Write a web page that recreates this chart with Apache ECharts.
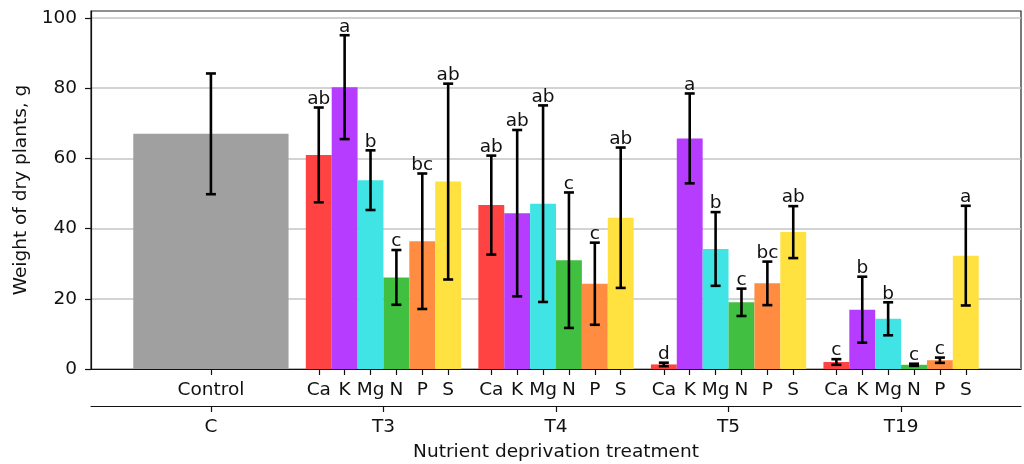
<!DOCTYPE html>
<html>
<head>
<meta charset="utf-8">
<script src="https://cdn.jsdelivr.net/npm/echarts@6/dist/echarts.min.js"></script>
<style>html,body{margin:0;padding:0;background:#fff}#c{width:1024px;height:464px}</style>
</head>
<body>
<div id="c"></div>
<script>
const treatments = ['C', 'T3', 'T4', 'T5', 'T19'];
const nutrients = ['Ca', 'K', 'Mg', 'N', 'P', 'S'];
const controlLabel = 'Control';
const controlMean = 67.0;
const controlErr = 17.2;
const meanT3 = [61.0, 80.3, 53.8, 26.1, 36.4, 53.4];
const errT3  = [13.5, 14.8, 8.5, 7.8, 19.3, 27.9];
const letT3  = ['ab', 'a', 'b', 'c', 'bc', 'ab'];
const meanT4 = [46.7, 44.4, 47.1, 31.0, 24.3, 43.1];
const errT4  = [14.1, 23.7, 28.0, 19.3, 11.7, 20.0];
const letT4  = ['ab', 'ab', 'ab', 'c', 'c', 'ab'];
const meanT5 = [1.3, 65.7, 34.2, 19.0, 24.4, 39.0];
const errT5  = [0.5, 12.8, 10.5, 3.9, 6.2, 7.4];
const letT5  = ['d', 'a', 'b', 'c', 'bc', 'ab'];
const meanT19 = [2.0, 16.9, 14.3, 1.2, 2.5, 32.3];
const errT19  = [0.8, 9.4, 4.7, 0.3, 0.75, 14.2];
const letT19  = ['c', 'b', 'b', 'c', 'c', 'a'];
const yTicks = [0, 20, 40, 60, 80, 100];

const colors = ['#ff4242', '#b63cff', '#40e4e4', '#40bf40', '#ff8c40', '#ffe140'];
const controlColor = '#a0a0a0';
const barW = 0.15;
const FONT = 'DejaVu Sans';
const FS = 18.5;

const groups = [
  [meanT3, errT3, letT3],
  [meanT4, errT4, letT4],
  [meanT5, errT5, letT5],
  [meanT19, errT19, letT19]
];

// rows: [x, mean, err, width, colorIdx(-1 = control), letter]
const rows = [[0, controlMean, controlErr, barW * 6, -1, '']];
const primaryTickVals = [0];
const labelMap = {'0.000': controlLabel};
groups.forEach((g, gi) => {
  nutrients.forEach((n, i) => {
    const x = (gi + 1) + (i - 2.5) * barW;
    rows.push([x, g[0][i], g[1][i], barW, i, g[2][i]]);
    primaryTickVals.push(x);
    labelMap[x.toFixed(3)] = n;
  });
});

const chart = echarts.init(document.getElementById('c'), null, {renderer: 'canvas'});
const textStyleBase = {fontFamily: FONT, fontSize: FS, color: '#111'};

chart.setOption({
  animation: false,
  grid: {left: 91, right: 3, top: 11, bottom: 95, show: true, borderColor: '#222', borderWidth: 1.2,
    backgroundColor: 'transparent', containLabel: false, outerBoundsMode: 'none'},
  xAxis: [
    {
      type: 'value', min: -0.695, max: 4.695, position: 'bottom',
      axisLine: {show: true, onZero: false, lineStyle: {color: '#111', width: 1.2}},
      axisTick: {show: true, customValues: primaryTickVals, length: 6, lineStyle: {color: '#111', width: 1.2}},
      axisLabel: {customValues: primaryTickVals, margin: 12, ...textStyleBase,
        formatter: v => labelMap[Number(v).toFixed(3)] || ''},
      splitLine: {show: false}
    },
    {
      type: 'value', min: -0.695, max: 4.695, position: 'bottom', offset: 37,
      axisLine: {show: true, onZero: false, lineStyle: {color: '#111', width: 1.2}},
      axisTick: {show: true, customValues: [0, 1, 2, 3, 4], length: 6, lineStyle: {color: '#111', width: 1.2}},
      axisLabel: {customValues: [0, 1, 2, 3, 4], margin: 12, ...textStyleBase,
        formatter: v => treatments[Math.round(v)] || ''},
      splitLine: {show: false},
      name: 'Nutrient deprivation treatment', nameLocation: 'middle', nameGap: 37,
      nameTextStyle: {fontFamily: FONT, fontSize: FS, color: '#111'}
    }
  ],
  yAxis: {
    type: 'value', min: 0, max: 102, position: 'left',
    axisLine: {show: true, onZero: false, lineStyle: {color: '#111', width: 1.2}},
    axisTick: {show: true, customValues: yTicks, length: 6, lineStyle: {color: '#111', width: 1.2}},
    axisLabel: {customValues: yTicks, margin: 14, ...textStyleBase},
    splitLine: {show: true, lineStyle: {color: '#c4c4c4', width: 1.5}},
    name: 'Weight of dry plants, g', nameLocation: 'middle', nameGap: 53,
    nameTextStyle: {fontFamily: FONT, fontSize: FS, color: '#111'}
  },
  series: [
    {
      type: 'custom', name: 'bars', data: rows, clip: false, z: 2,
      renderItem: (params, api) => {
        const x = api.value(0), m = api.value(1), w = api.value(3), ci = api.value(4);
        const p0 = api.coord([x - w / 2, m]);
        const p1 = api.coord([x + w / 2, 0]);
        return {type: 'rect', shape: {x: p0[0], y: p0[1], width: p1[0] - p0[0], height: p1[1] - p0[1]},
          style: {fill: ci < 0 ? controlColor : colors[ci]}};
      }
    },
    {
      type: 'custom', name: 'errors', data: rows, clip: false, z: 3,
      renderItem: (params, api) => {
        const x = api.value(0), m = api.value(1), e = api.value(2);
        const top = api.coord([x, m + e]);
        const bot = api.coord([x, m - e]);
        const st = {stroke: '#000', lineWidth: 2.6};
        return {type: 'group', children: [
          {type: 'line', shape: {x1: top[0], y1: top[1], x2: bot[0], y2: bot[1]}, style: st},
          {type: 'line', shape: {x1: top[0] - 5, y1: top[1], x2: top[0] + 5, y2: top[1]}, style: st},
          {type: 'line', shape: {x1: bot[0] - 5, y1: bot[1], x2: bot[0] + 5, y2: bot[1]}, style: st}
        ]};
      }
    },
    {
      type: 'custom', name: 'letters', data: rows.map(r => [r[0], r[1] + r[2]]), clip: false, z: 4,
      renderItem: (params, api) => {
        const p = api.coord([api.value(0), api.value(1)]);
        const t = rows[params.dataIndex][5];
        return {type: 'text', x: p[0], y: p[1] + 1,
          style: {text: t, fontFamily: FONT, fontSize: FS, fill: '#111', align: 'center', verticalAlign: 'bottom'}};
      }
    }
  ]
});
</script>
</body>
</html>
